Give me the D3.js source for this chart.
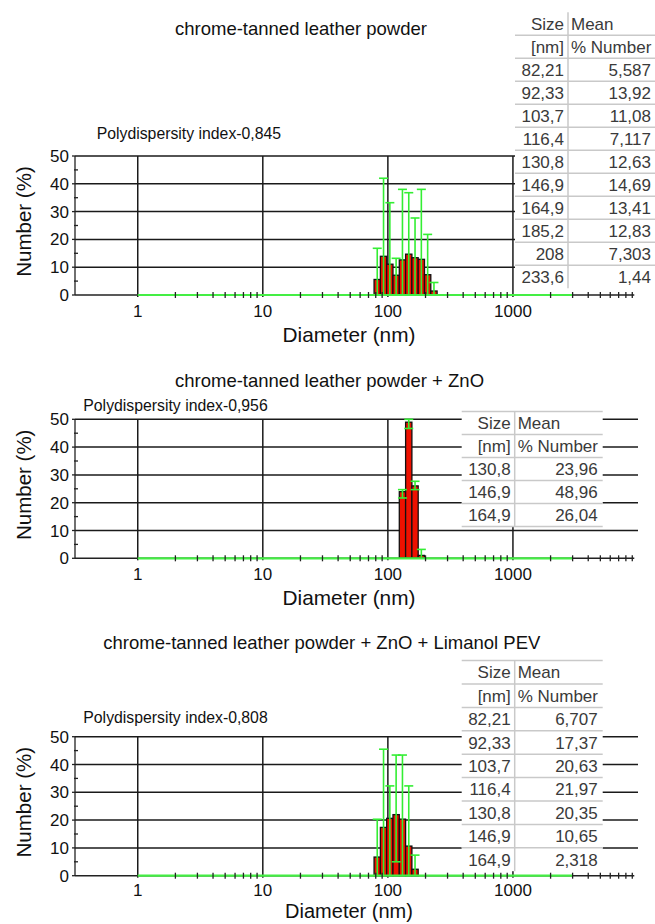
<!DOCTYPE html>
<html lang="en">
<head>
<meta charset="UTF-8">
<script src="https://cdn.jsdelivr.net/npm/d3@7"></script>
<title>Particle size distribution</title>
<style>
    body { margin: 0; background: #fff; }
    svg { display: block; font-family: "Liberation Sans", Arial, sans-serif; }
    .grid line { stroke: #1a1a1a; stroke-width: 1.5px; }
    .tbl text { fill: #3a3a3a; font-size: 17px; }
    .tbl line { stroke: #c9c9c9; stroke-width: 1.5px; }
</style>
</head>
<body>
<div id="fig"></div>
<script>
    /*------------------------ data ------------------------*/
    // size bins (nm) and mean % number, read from the tables / bars
    const sizes1 = [82.21, 92.33, 103.7, 116.4, 130.8, 146.9, 164.9, 185.2, 208, 233.6];
    const number1 = [5.587, 13.92, 11.08, 7.117, 12.63, 14.69, 13.41, 12.83, 7.303, 1.44];
    const errTop1 = [16.8, 42.0, 33.2, 13.2, 38.0, 36.8, 27.7, 38.0, 21.8, 4.5];
    const errLow1 = [0, 0, 0, 0, 0, 0, 0, 0, 0, 0];

    const sizes2 = [130.8, 146.9, 164.9, 185.2];
    const number2 = [23.96, 48.96, 26.04, 1.04];
    const errTop2 = [24.7, 50.0, 27.7, 3.2];
    const errLow2 = [21.7, 46.7, 24.7, 0];

    const sizes3 = [82.21, 92.33, 103.7, 116.4, 130.8, 146.9, 164.9];
    const number3 = [6.707, 17.37, 20.63, 21.97, 20.35, 10.65, 2.318];
    const errTop3 = [20.3, 45.5, 32.3, 43.4, 43.4, 32.3, 7.4];
    const errLow3 = [0, 0, 0, 5.0, 0, 0, 0];

    const titles = [
        "chrome-tanned leather powder",
        "chrome-tanned leather powder + ZnO",
        "chrome-tanned leather powder + ZnO + Limanol PEV"
    ];
    const pdiLabels = [
        "Polydispersity index-0,845",
        "Polydispersity index-0,956",
        "Polydispersity index-0,808"
    ];
    // how many bins are listed in each table
    const tableRowCount = [10, 3, 7];
    const headerRows = [["Size", "Mean"], ["[nm]", "% Number"]];
    const xTickValues = [1, 10, 100, 1000];
    const yTickValues = [0, 10, 20, 30, 40, 50];
    const greenRange = [1, 3000];

    /*------------------------ layout ------------------------*/
    const W = 655, H = 924;
    const plotLeft = 75, plotRight = 638, plotH = 139;

    const panels = [
        { sizes: sizes1, values: number1, hi: errTop1, lo: errLow1, top: 156,
          titleX: 175, titleY: 34.5, pdiX: 96.7, pdiY: 138.5, tickDy: 22, xLabelDy: 47, xLabelSize: 20.8,
          table: { x: 515, y: 12.2, rowH: 23, topLine: false, bottomLine: false } },
        { sizes: sizes2, values: number2, hi: errTop2, lo: errLow2, top: 419.3,
          titleX: 175, titleY: 386.5, pdiX: 83.3, pdiY: 410.5, tickDy: 22, xLabelDy: 47, xLabelSize: 20.8,
          table: { x: 461.7, y: 411.5, rowH: 23, topLine: true, bottomLine: true } },
        { sizes: sizes3, values: number3, hi: errTop3, lo: errLow3, top: 736.7,
          titleX: 103.3, titleY: 649, pdiX: 83.3, pdiY: 722.8, tickDy: 20, xLabelDy: 42.3, xLabelSize: 20,
          table: { x: 461.7, y: 660.6, rowH: 23.4, topLine: true, bottomLine: false } }
    ];

    const svg = d3.select("#fig").append("svg")
        .attr("width", W)
        .attr("height", H);
    svg.append("rect").attr("width", W).attr("height", H).attr("fill", "#fff");

    const x = d3.scaleLog().domain([0.315, 10000]).range([plotLeft, plotRight]);
    const minorTicks = x.ticks().filter(d => d > 1 && d < 10000 && !xTickValues.includes(d));
    const fmt = v => String(v).replace(".", ",");

    const drawPanel = (p, k) => {
        const bottom = p.top + plotH;
        const y = d3.scaleLinear().domain([0, 50]).range([bottom, p.top]);
        const g = svg.append("g");

        // title + polydispersity
        g.append("text").attr("x", p.titleX).attr("y", p.titleY)
            .attr("font-size", 18.5).attr("fill", "#111").text(titles[k]);
        g.append("text").attr("x", p.pdiX).attr("y", p.pdiY)
            .attr("font-size", 15.8).attr("fill", "#111").text(pdiLabels[k]);

        // grid
        const grid = g.append("g").attr("class", "grid");
        grid.selectAll(".h").data(yTickValues.filter(d => d > 0)).enter().append("line")
            .attr("x1", plotLeft).attr("x2", plotRight)
            .attr("y1", d => y(d)).attr("y2", d => y(d));
        grid.selectAll(".v").data(xTickValues).enter().append("line")
            .attr("x1", d => x(d)).attr("x2", d => x(d))
            .attr("y1", p.top).attr("y2", bottom + 2);

        // bars, edges half way between neighbouring bins (log space)
        const s = p.sizes;
        const edges = s.map((d, i) => {
            const r = i < s.length - 1 ? s[i + 1] / d : d / s[i - 1];
            const l = i > 0 ? d / s[i - 1] : r;
            return [d / Math.sqrt(l), d * Math.sqrt(r)];
        });
        g.selectAll(".bar").data(s).enter().append("rect")
            .attr("x", (d, i) => x(edges[i][0]))
            .attr("width", (d, i) => x(edges[i][1]) - x(edges[i][0]))
            .attr("y", (d, i) => y(p.values[i]))
            .attr("height", (d, i) => bottom - y(p.values[i]))
            .attr("fill", "#ee1100").attr("stroke", "#111").attr("stroke-width", 1.3);

        // error bars
        const eb = g.append("g").attr("stroke", "#33ee33").attr("stroke-width", 1.6);
        s.forEach((d, i) => {
            const cx = x(d);
            eb.append("line").attr("x1", cx).attr("x2", cx)
                .attr("y1", y(p.lo[i])).attr("y2", y(p.hi[i]));
            eb.append("line").attr("x1", cx - 4.5).attr("x2", cx + 4.5)
                .attr("y1", y(p.hi[i])).attr("y2", y(p.hi[i]));
            if (p.lo[i] > 0) {
                eb.append("line").attr("x1", cx - 4.5).attr("x2", cx + 4.5)
                    .attr("y1", y(p.lo[i])).attr("y2", y(p.lo[i]));
            }
        });

        // table (white box over the grid)
        const t = p.table, colW = 53, tw = 141;
        const nRows = 2 + tableRowCount[k];
        const tbl = g.append("g").attr("class", "tbl");
        tbl.append("rect").attr("x", t.x).attr("y", t.y)
            .attr("width", tw).attr("height", nRows * t.rowH).attr("fill", "#fff");
        const lineRows = d3.range(t.topLine ? 0 : 1, nRows + (t.bottomLine ? 1 : 0));
        tbl.selectAll(".rl").data(lineRows).enter().append("line")
            .attr("x1", t.x).attr("x2", t.x + tw)
            .attr("y1", d => t.y + d * t.rowH).attr("y2", d => t.y + d * t.rowH);
        tbl.append("line").attr("x1", t.x + colW).attr("x2", t.x + colW)
            .attr("y1", t.y).attr("y2", t.y + nRows * t.rowH);
        const rows = headerRows.concat(
            s.slice(0, tableRowCount[k]).map((d, i) => [fmt(d), fmt(p.values[i])]));
        rows.forEach((r, i) => {
            const ty = t.y + (i + 0.5) * t.rowH + 6;
            tbl.append("text").attr("x", t.x + colW - 4).attr("y", ty)
                .attr("text-anchor", "end").text(r[0]);
            if (i < 2) {
                tbl.append("text").attr("x", t.x + colW + 3).attr("y", ty).text(r[1]);
            } else {
                tbl.append("text").attr("x", t.x + tw - 5).attr("y", ty)
                    .attr("text-anchor", "end").text(r[1]);
            }
        });

        // baseline: dark, green over the measured range, minor ticks
        g.append("line").attr("x1", plotLeft).attr("x2", x(9000) + 2)
            .attr("y1", bottom).attr("y2", bottom)
            .attr("stroke", "#222").attr("stroke-width", 1.4);
        g.append("line").attr("x1", x(greenRange[0])).attr("x2", x(greenRange[1]))
            .attr("y1", bottom).attr("y2", bottom)
            .attr("stroke", "#44ee44").attr("stroke-width", 2.2);
        g.selectAll(".mt").data(minorTicks).enter().append("line")
            .attr("x1", d => x(d)).attr("x2", d => x(d))
            .attr("y1", bottom - 3).attr("y2", bottom + 3)
            .attr("stroke", "#222").attr("stroke-width", 1.3);

        // y axis
        g.append("line").attr("x1", plotLeft).attr("x2", plotLeft)
            .attr("y1", p.top).attr("y2", bottom)
            .attr("stroke", "#222").attr("stroke-width", 1.3);
        g.selectAll(".yt").data(yTickValues).enter().append("line")
            .attr("x1", plotLeft - 3).attr("x2", plotLeft)
            .attr("y1", d => y(d)).attr("y2", d => y(d))
            .attr("stroke", "#222").attr("stroke-width", 1.3);
        g.selectAll(".ym").data(yTickValues.slice(1)).enter().append("line")
            .attr("x1", plotLeft - 1).attr("x2", plotLeft + 3)
            .attr("y1", d => y(d - 5)).attr("y2", d => y(d - 5))
            .attr("stroke", "#222").attr("stroke-width", 1.3);
        g.selectAll(".yl").data(yTickValues).enter().append("text")
            .attr("x", plotLeft - 6).attr("y", d => y(d) + 6)
            .attr("text-anchor", "end").attr("font-size", 17).attr("fill", "#111")
            .text(d => d);
        g.append("text")
            .attr("transform", `translate(31,${(p.top + bottom) / 2 - 4}) rotate(-90)`)
            .attr("text-anchor", "middle").attr("font-size", 20.5).attr("fill", "#111")
            .text("Number (%)");

        // x labels
        g.selectAll(".xl").data(xTickValues).enter().append("text")
            .attr("x", d => x(d)).attr("y", bottom + p.tickDy)
            .attr("text-anchor", "middle").attr("font-size", 17).attr("fill", "#111")
            .text(d => d);
        g.append("text").attr("x", 349).attr("y", bottom + p.xLabelDy)
            .attr("text-anchor", "middle").attr("font-size", p.xLabelSize).attr("fill", "#111")
            .text("Diameter (nm)");
    };

    panels.forEach(drawPanel);
</script>
</body>
</html>
